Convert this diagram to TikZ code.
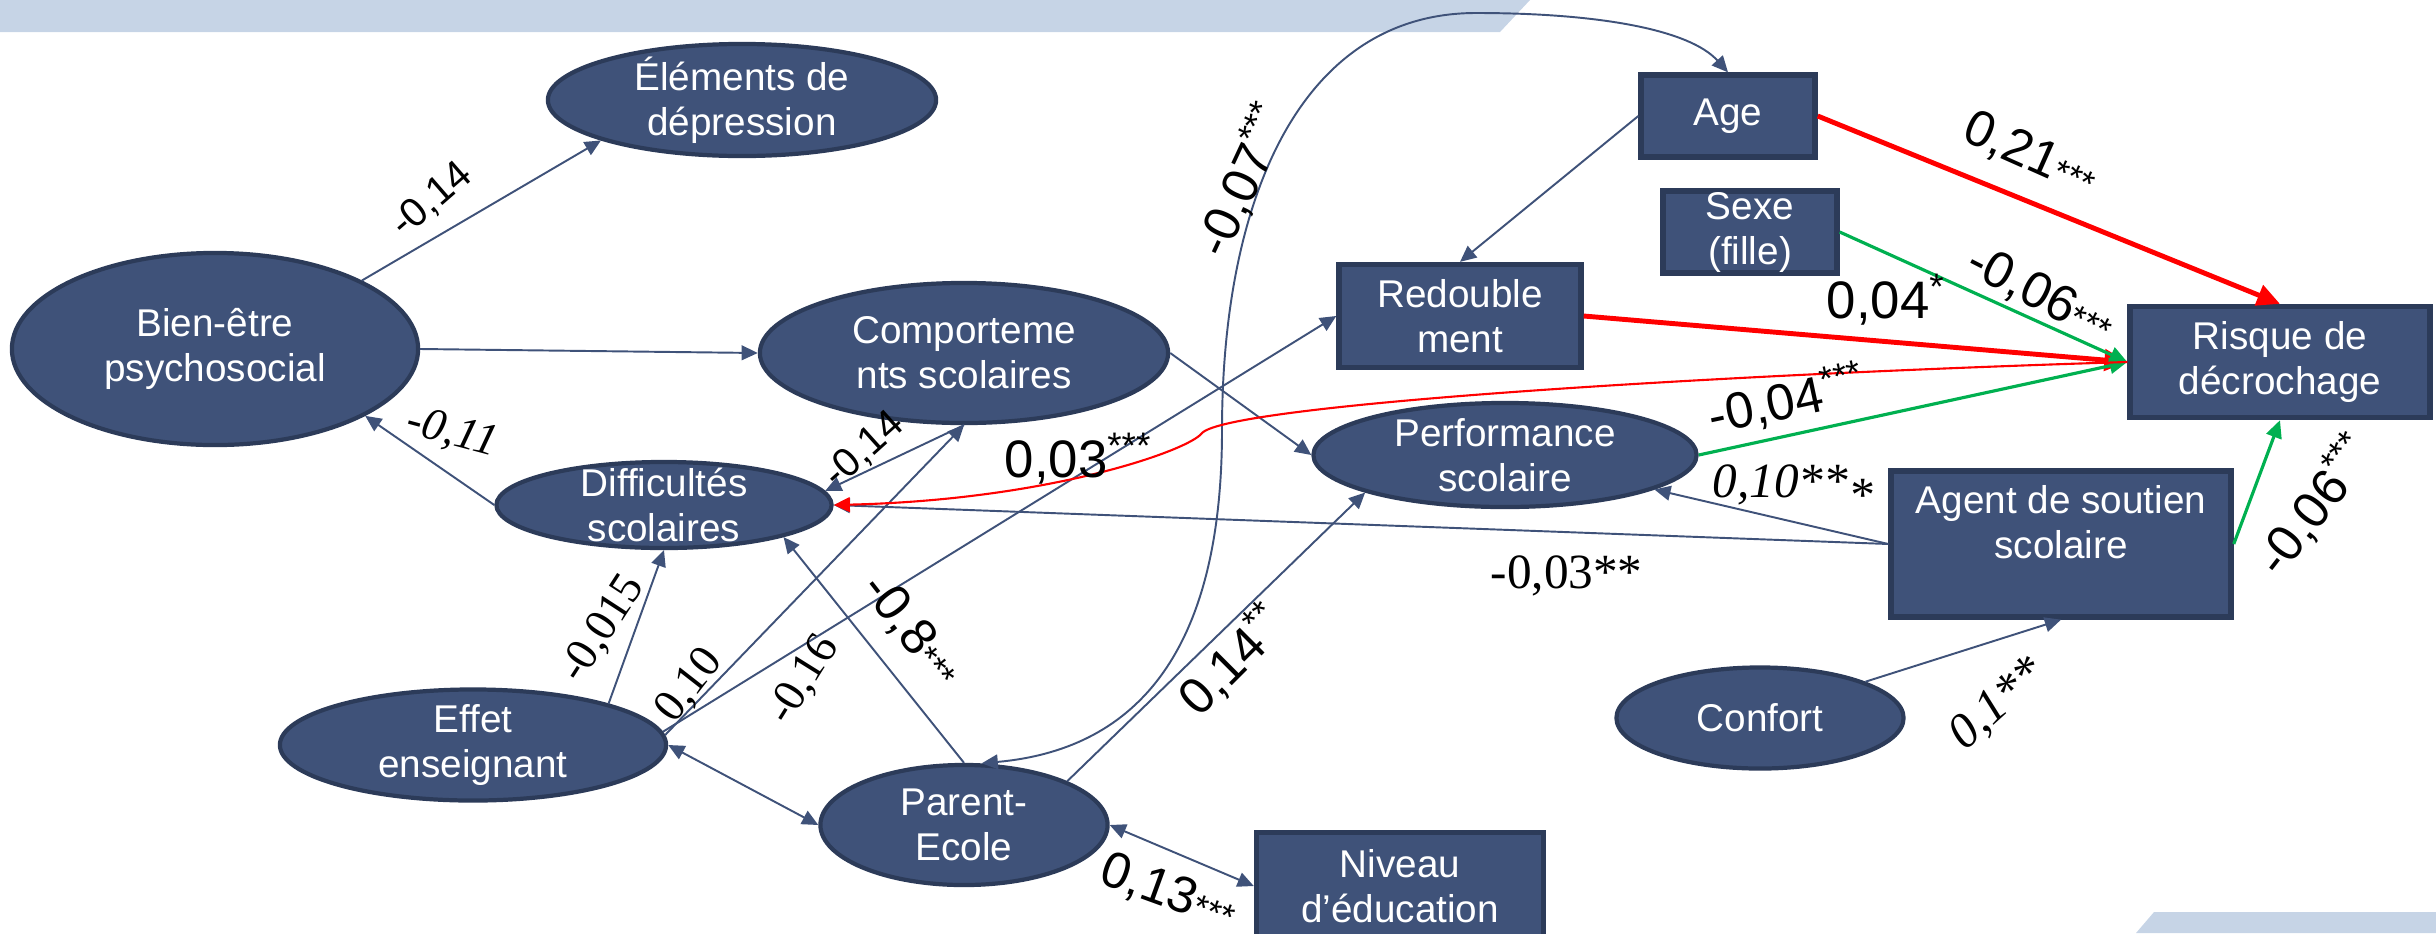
\documentclass[tikz,border=0pt]{standalone}
\usepackage{fontspec}
\setmainfont{Liberation Sans}
\newfontfamily\tnr{Liberation Serif}
\usepackage{tikz}
\usetikzlibrary{shapes.geometric, arrows.meta}

\definecolor{nodeblue}{RGB}{63,82,121}
\definecolor{bordblue}{RGB}{44,59,89}
\definecolor{edgeblue}{RGB}{63,82,121}
\definecolor{bannerblue}{RGB}{198,212,230}
\definecolor{dgreen}{RGB}{0,176,80}

\newcommand{\upst}[1]{\textsuperscript{#1}}
\newcommand{\lowst}[1]{{\fontsize{10}{10}\selectfont #1}}

\begin{document}
\begin{tikzpicture}[->,>={Triangle[length=4.6pt,width=4.2pt]}, x=0.01cm, y=-0.01cm]
  \tikzstyle{var}=[ellipse, fill=nodeblue, draw=bordblue, line width=1.2pt, text=white,
                   align=center, inner sep=-0.4cm, font={\fontsize{11}{12.8}\selectfont}]
  \tikzstyle{obs}=[rectangle, fill=nodeblue, draw=bordblue, line width=1.5pt, text=white,
                   align=center, inner sep=-0.4cm, font={\fontsize{11}{12.8}\selectfont}]
  \tikzstyle{every edge}=[draw=edgeblue, line width=0.55pt]
  \tikzstyle{lnk}=[draw=edgeblue, line width=0.55pt]
  \tikzstyle{redl}=[draw=red, line width=1.4pt, -{Triangle[length=6.5pt,width=6pt]}]
  \tikzstyle{redc}=[draw=red, line width=0.6pt, -{Triangle[length=4.6pt,width=4.2pt]}]
  \tikzstyle{grnl}=[draw=dgreen, line width=0.9pt, -{Triangle[length=5pt,width=4.5pt]}]
  \tikzstyle{coef}=[inner sep=0pt, font={\fontsize{14.5}{16}\selectfont}]
  \tikzstyle{coefsm}=[inner sep=0pt, font={\fontsize{11.5}{13}\selectfont}]
  \tikzstyle{coeft}=[inner sep=0pt, font={\tnr\fontsize{13}{15}\selectfont}]

  \useasboundingbox (0,0) rectangle (2436,933);
  \fill[-, bannerblue] (0,0) -- (1530,0) -- (1500,32) -- (0,32) -- cycle;
  \fill[-, bannerblue] (2154,912) -- (2436,912) -- (2436,933) -- (2136,933) -- cycle;

  % latent variables
  \node[var, minimum width=3.88cm, minimum height=1.12cm] (elem)    at (742,100)  {Éléments de\\dépression};
  \node[var, minimum width=4.06cm, minimum height=1.92cm] (bien)    at (215,349)  {Bien-être\\psychosocial};
  \node[var, minimum width=4.08cm, minimum height=1.40cm] (comp)    at (964,353)  {Comporteme\\nts scolaires};
  \node[var, minimum width=3.35cm, minimum height=0.86cm] (diff)    at (664,505)  {Difficultés\\scolaires};
  \node[var, minimum width=3.86cm, minimum height=1.11cm] (effet)   at (473,745)  {Effet\\enseignant};
  \node[var, minimum width=2.87cm, minimum height=1.20cm] (parent)  at (964,825)  {Parent-\\Ecole};
  \node[var, minimum width=3.83cm, minimum height=1.04cm] (perf)    at (1505,455) {Performance\\scolaire};
  \node[var, minimum width=2.87cm, minimum height=1.01cm] (confort) at (1760,718) {Confort};

  % observed variables
  \node[obs, minimum width=2.87cm, minimum height=1.07cm] (niveau)  at (1400,886) {Niveau\\d’éducation};
  \node[obs, minimum width=2.42cm, minimum height=1.03cm] (redo)    at (1460,316) {Redouble\\ment};
  \node[obs, minimum width=1.74cm, minimum height=0.82cm] (age)     at (1728,116) {Age};
  \node[obs, minimum width=1.74cm, minimum height=0.82cm] (sexe)    at (1750,232) {Sexe\\(fille)};
  \node[obs, minimum width=3.00cm, minimum height=1.11cm] (risque)  at (2280,362) {Risque de\\décrochage};
  \node[obs, minimum width=3.40cm, minimum height=1.46cm] (agent)   at (2061,544) {Agent de soutien\\scolaire\\\mbox{}};

  \path (bien.25)      edge (elem.196)
        (bien.east)    edge (comp.west)
        (diff.west)    edge (bien.-24)
        (comp.south)   edge (diff.5)
        (effet.17)     edge (diff.south)
        (effet.3)      edge (comp.south)
        (effet.4)      edge (redo.west)
        (parent.north) edge (diff.-15)
        (parent.23)    edge (perf.195)
        (effet.east)   edge[<->] (parent.west)
        (parent.east)  edge[<->] (niveau.west)
        (comp.east)    edge (perf.west)
        (age.west)     edge (redo.north)
        (agent.west)   edge (perf.-13)
        (agent.west)   edge (diff.east)
        (confort.19)   edge (agent.south);

  \path (age.east)    edge[redl] (risque.north)
        (redo.east)   edge[redl] (risque.west)
        (sexe.east)   edge[grnl] (risque.west)
        (perf.east)   edge[grnl] (risque.west)
        (agent.east)  edge[grnl] (risque.south);

  \draw[lnk,<->] (parent.74) .. controls (1130,750) and (1222,660) .. (1222,430)
                 .. controls (1222,200) and (1300,13) .. (1476,13)
                 .. controls (1600,13) and (1690,30) .. (age.north);
  \draw[redc] (risque.west) .. controls (1700,375) and (1230,405) .. (1202,433)
              .. controls (1190,450) and (1050,500) .. (diff.east);

  % coefficients
  \node[coefsm, rotate=41]  (c1)  at (432,200)  {-0,14};
  \node[coeft, rotate=-15, font={\tnr\itshape\fontsize{13}{15}\selectfont}] (c2) at (452,433) {-0,11};
  \node[coefsm, rotate=42]  (c3)  at (864,450)  {-0,14};
  \node[coef, anchor=base west, font={\fontsize{15}{17}\selectfont}] (c4) at (1004,477) {0,03\upst{***}};
  \node[coef, rotate=65]    (c5)  at (1243,180) {-0,07\upst{***}};
  \node[coeft, rotate=57]   (c6)  at (603,629)  {-0,015};
  \node[coeft, rotate=52]   (c7)  at (690,686)  {0,10};
  \node[coeft, rotate=58]   (c8)  at (804,680)  {-0,16};
  \node[coef, rotate=-52]   (c9)  at (911,631)  {-0,8\lowst{***}};
  \node[coef, rotate=45]    (c10) at (1232,660) {0,14\upst{**}};
  \node[coef, rotate=-20]   (c11) at (1168,893) {0,13\lowst{***}};
  \node[coeft, anchor=base west, font={\tnr\fontsize{14}{16}\selectfont}] (c12) at (1490,588) {-0,03**};
  \node[coeft, anchor=base west, font={\tnr\itshape\fontsize{14}{16}\selectfont}] (c13) at (1712,497) {0,10**\raisebox{-.3em}{*}};
  \node[coef, rotate=12]    (c14) at (1787,400) {-0,04\upst{***}};
  \node[coef, anchor=base west, font={\fontsize{15}{17}\selectfont}] (c15) at (1826,318) {0,04\upst{*}};
  \node[coef, rotate=-27]   (c16) at (2040,295) {-0,06\lowst{***}};
  \node[coef, rotate=-24]   (c17) at (2030,155) {0,21\lowst{***}};
  \node[coef, rotate=52]    (c18) at (2315,505) {-0,06\upst{***}};
  \node[coeft, rotate=42, font={\tnr\itshape\fontsize{14}{16}\selectfont}] (c19) at (1998,705) {0,1**};
\end{tikzpicture}
\end{document}
